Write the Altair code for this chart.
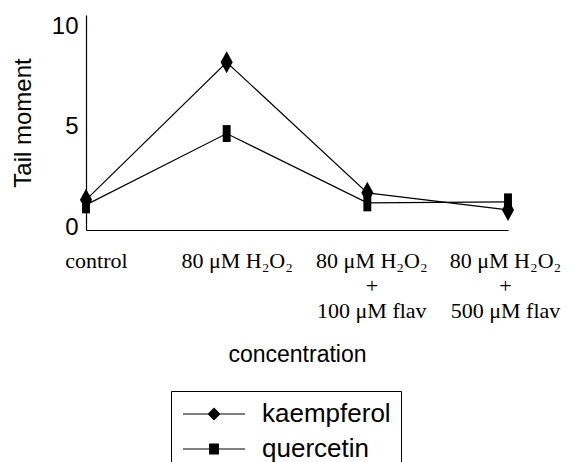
import altair as alt
import pandas as pd

conditions = ["control", "80 μM H₂O₂", "80 μM H₂O₂|+|100 μM flav", "80 μM H₂O₂|+|500 μM flav"]
series_names = ["kaempferol", "quercetin"]
kaempferol = [1.5, 8.35, 1.85, 1.0]
quercetin = [1.25, 4.8, 1.35, 1.4]
y_ticks = [0, 5, 10]

# marker shapes in the plot (tall diamond, tall block)
plot_shapes = ["M0,-1L0.55,0L0,1L-0.55,0Z", "M-0.36,-0.77H0.36V0.77H-0.36Z"]
# legend symbols: line segment with the marker in its middle
legend_shapes = [
    "M-0.85,-0.045H3.92V0.045H-0.85Z M1.04,0L1.54,-0.5L2.04,0L1.54,0.5Z",
    "M-0.85,-0.045H3.92V0.045H-0.85Z M1.16,-0.42H1.92V0.42H1.16Z",
]

rows = []
for s, vals in zip(series_names, [kaempferol, quercetin]):
    for c, v in zip(conditions, vals):
        rows.append({"series": s, "condition": c, "value": v})
df = pd.DataFrame(rows)

SANS = "Liberation Sans"
SERIF = "Liberation Serif"

x_enc = alt.X(
    "condition:N",
    scale=alt.Scale(type="point", domain=conditions, padding=0),
    axis=alt.Axis(
        title="concentration",
        labelExpr="split(datum.label, '|')",
        labelAngle=0,
        labelAlign="center",
        labelBaseline="top",
        labelFont=SERIF,
        labelFontSize=22,
        labelLineHeight=25,
        labelPadding=20,
        labelColor="black",
        labelOffset={
            "condition": [
                {"test": f"datum.value == '{conditions[0]}' || datum.value == '{conditions[1]}'", "value": 10},
                {"test": f"datum.value == '{conditions[3]}'", "value": -3},
            ],
            "value": 4,
        },
        ticks=False,
        domainColor="black",
        domainWidth=1.2,
        titleFont=SANS,
        titleFontSize=23,
        titleFontWeight="normal",
        titleColor="black",
        titlePadding=22,
        grid=False,
    ),
)
y_enc = alt.Y(
    "value:Q",
    scale=alt.Scale(domain=[0, 10.7], nice=False),
    axis=alt.Axis(
        title="Tail moment",
        values=y_ticks,
        ticks=False,
        labelFont=SANS,
        labelFontSize=24,
        labelColor="black",
        labelPadding=8,
        labelOffset=-3,
        domainColor="black",
        domainWidth=1.2,
        titleFont=SANS,
        titleFontSize=24,
        titleFontWeight="normal",
        titleColor="black",
        titlePadding=16,
        grid=False,
    ),
)

base = alt.Chart(df)

lines = base.mark_line(color="black", strokeWidth=1.2).encode(
    x=x_enc, y=y_enc, detail="series:N"
)

points = base.mark_point(filled=True, color="black", size=484, opacity=1).encode(
    x=x_enc,
    y=y_enc,
    shape=alt.Shape("series:N", scale=alt.Scale(domain=series_names, range=plot_shapes), legend=None),
)

legend_layer = base.transform_filter("false").mark_point(
    filled=True, color="black", opacity=1
).encode(
    x=x_enc,
    y=y_enc,
    shape=alt.Shape(
        "series:N",
        scale=alt.Scale(domain=series_names, range=legend_shapes),
        legend=alt.Legend(
            title=None,
            orient="none",
            legendX=85,
            legendY=376,
            strokeColor="black",
            padding=10,
            labelFont=SANS,
            labelFontSize=26,
            labelColor="black",
            labelOffset=55,
            symbolSize=676,
            symbolFillColor="black",
            symbolStrokeWidth=0,
            symbolOpacity=1,
            rowPadding=9,
        ),
    ),
)

chart = (
    alt.layer(lines, points, legend_layer)
    .resolve_scale(shape="independent")
    .properties(
        width=422,
        height=215,
        background="white",
        autosize=alt.AutoSizeParams(type="none"),
        padding={"left": 78, "top": 7, "right": 54, "bottom": 232},
    )
    .configure_view(stroke=None, strokeWidth=0)
)

chart.save("out.html", embed_options={"renderer": "svg", "actions": False})
